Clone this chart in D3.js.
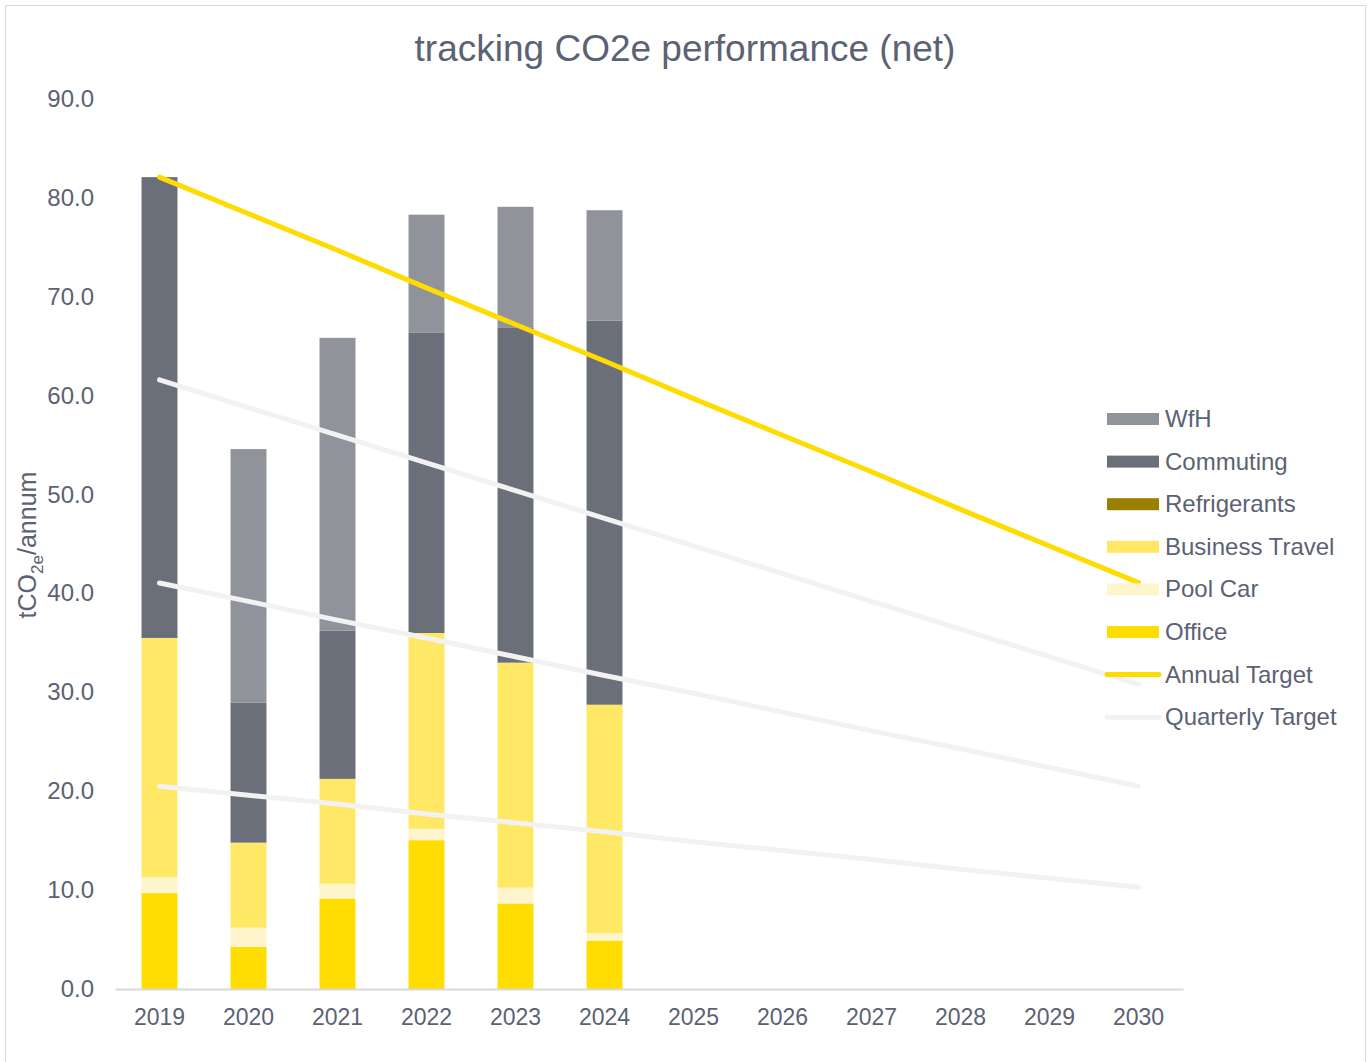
<!DOCTYPE html>
<html>
<head>
<meta charset="utf-8">
<script src="https://cdn.jsdelivr.net/npm/d3@7"></script>
<style>
  body { margin: 0; background: #fff; }
  svg text { font-family: "Liberation Sans", Arial, sans-serif; fill: #5b6273; }
</style>
</head>
<body>
<svg id="chart" width="1370" height="1062"></svg>
<script>
// years on the category axis
const years = ["2019", "2020", "2021", "2022", "2023", "2024", "2025", "2026", "2027", "2028", "2029", "2030"];

// stacked bar values (tCO2e/annum), only 2019-2024 reported
const office = [9.7, 4.25, 9.15, 15.05, 8.65, 4.9];
const poolCar = [1.6, 1.95, 1.5, 1.15, 1.6, 0.75];
const businessTravel = [24.2, 8.6, 10.6, 19.8, 22.75, 23.1];
const refrigerants = [0, 0, 0, 0, 0, 0];
const commuting = [46.6, 14.15, 15.0, 30.4, 33.85, 38.85];
const wfh = [0, 25.65, 29.6, 11.9, 12.25, 11.15];

// target lines
const annualTarget = [82.1, 78.4, 74.7, 70.9, 67.2, 63.5, 59.7, 56.0, 52.3, 48.5, 44.8, 41.1];
const quarterlyTargetA = [61.6, 58.8, 56.0, 53.2, 50.4, 47.6, 44.8, 42.0, 39.2, 36.4, 33.6, 30.8];
const quarterlyTargetB = [41.05, 39.2, 37.3, 35.5, 33.6, 31.7, 29.9, 28.0, 26.1, 24.3, 22.4, 20.5];
const quarterlyTargetC = [20.5, 19.6, 18.7, 17.7, 16.8, 15.9, 14.9, 14.0, 13.1, 12.1, 11.2, 10.3];

const yTicks = [0, 10, 20, 30, 40, 50, 60, 70, 80, 90];

const seriesNames = ["Office", "Pool Car", "Business Travel", "Refrigerants", "Commuting", "WfH"];
const seriesColors = ["#ffdd00", "#fff5cc", "#ffe866", "#9a8000", "#6b6f7a", "#909399"];

const svg = d3.select("#chart");

// outer frame
svg.append("rect").attr("x", 5.5).attr("y", 5.5).attr("width", 1360).attr("height", 1060)
  .attr("fill", "#fff").attr("stroke", "#d9d9d9");

const x = d3.scaleBand().domain(years).range([115, 1183]).paddingInner(0.596).paddingOuter(0.298);
const y = d3.scaleLinear().domain([0, 90]).range([989, 99]);

// title
svg.append("text").attr("x", 685).attr("y", 61).attr("text-anchor", "middle")
  .style("font-size", "37px").text("tracking CO2e performance (net)");

// y tick labels (no gridlines)
svg.append("g").selectAll("text").data(yTicks).join("text")
  .attr("x", 94).attr("y", d => y(d) + 8).attr("text-anchor", "end")
  .style("font-size", "24px").text(d => d.toFixed(1));

// y axis title with subscript
const yt = svg.append("text").attr("transform", "translate(36,545) rotate(-90)")
  .attr("text-anchor", "middle").style("font-size", "25px");
yt.append("tspan").text("tCO");
yt.append("tspan").attr("dy", 7).style("font-size", "17px").text("2e");
yt.append("tspan").attr("dy", -7).text("/annum");

// stacked bars
const rows = office.map((v, i) => ({
  year: years[i], "Office": v, "Pool Car": poolCar[i], "Business Travel": businessTravel[i],
  "Refrigerants": refrigerants[i], "Commuting": commuting[i], "WfH": wfh[i]
}));
const stacked = d3.stack().keys(seriesNames)(rows);

svg.append("g").selectAll("g").data(stacked).join("g")
  .attr("fill", (d, i) => seriesColors[i])
  .selectAll("rect").data(d => d).join("rect")
  .attr("x", d => x(d.data.year))
  .attr("width", x.bandwidth())
  .attr("y", d => y(d[1]))
  .attr("height", d => y(d[0]) - y(d[1]));

// x axis
const xAxis = svg.append("g").attr("transform", "translate(0,989)")
  .call(d3.axisBottom(x).tickSize(0).tickPadding(20));
xAxis.select(".domain").attr("stroke", "#d9d9d9").attr("stroke-width", 2);
xAxis.selectAll("text").style("font-size", "23px")
  .style("font-family", "'Liberation Sans', Arial, sans-serif").attr("fill", "#5b6273");

// target lines
const line = d3.line().x((d, i) => x(years[i]) + x.bandwidth() / 2).y(d => y(d));
[quarterlyTargetA, quarterlyTargetB, quarterlyTargetC].forEach(q => {
  svg.append("path").attr("d", line(q)).attr("fill", "none")
    .attr("stroke", "#f2f2f2").attr("stroke-width", 5).attr("stroke-linecap", "round");
});
svg.append("path").attr("d", line(annualTarget)).attr("fill", "none")
  .attr("stroke", "#ffdc00").attr("stroke-width", 5).attr("stroke-linecap", "round");

// legend
const legendItems = [
  { name: "WfH", color: "#909399", type: "bar" },
  { name: "Commuting", color: "#6b6f7a", type: "bar" },
  { name: "Refrigerants", color: "#9a8000", type: "bar" },
  { name: "Business Travel", color: "#ffe866", type: "bar" },
  { name: "Pool Car", color: "#fff5cc", type: "bar" },
  { name: "Office", color: "#ffdd00", type: "bar" },
  { name: "Annual Target", color: "#ffdc00", type: "line" },
  { name: "Quarterly Target", color: "#f2f2f2", type: "line" }
];
const lg = svg.append("g").selectAll("g").data(legendItems).join("g")
  .attr("transform", (d, i) => `translate(1107,${419 + i * 42.6})`);
lg.filter(d => d.type === "bar").append("rect")
  .attr("x", 0).attr("y", -6).attr("width", 52).attr("height", 12).attr("fill", d => d.color);
lg.filter(d => d.type === "line").append("line")
  .attr("x1", 0).attr("x2", 52).attr("y1", 0).attr("y2", 0)
  .attr("stroke", d => d.color).attr("stroke-width", 5).attr("stroke-linecap", "round");
lg.append("text").attr("x", 58).attr("y", 8).style("font-size", "24px").text(d => d.name);
</script>
</body>
</html>
